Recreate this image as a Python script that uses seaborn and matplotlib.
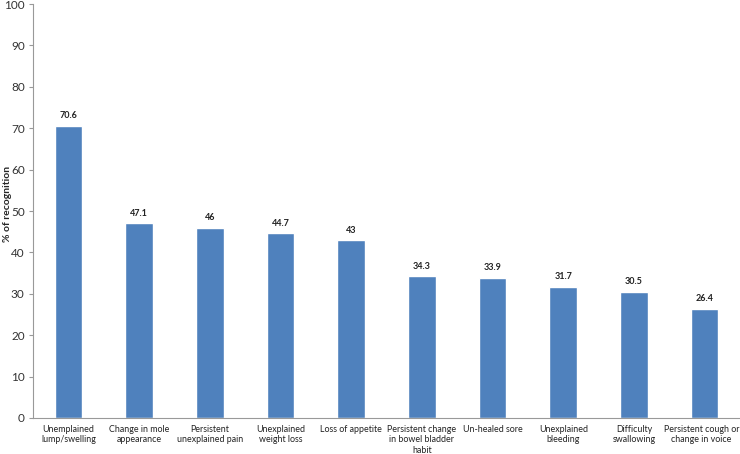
import matplotlib
matplotlib.use("Agg")
import matplotlib.pyplot as plt
import matplotlib.transforms as mtransforms
import seaborn as sns
import pandas as pd

categories = ["Unemplained\nlump/swelling", "Change in mole\nappearance", "Persistent\nunexplained pain",
              "Unexplained\nweight loss", "Loss of appetite", "Persistent change\nin bowel bladder\nhabit",
              "Un-healed sore", "Unexplained\nbleeding", "Difficulty\nswallowing", "Persistent cough or\nchange in voice"]
values = [70.6, 47.1, 46, 44.7, 43, 34.3, 33.9, 31.7, 30.5, 26.4]
labels = ["70.6", "47.1", "46", "44.7", "43", "34.3", "33.9", "31.7", "30.5", "26.4"]
yticks = [0, 10, 20, 30, 40, 50, 60, 70, 80, 90, 100]

sns.set_style("white")
plt.rcParams['font.family'] = ['Lato', 'DejaVu Sans']

df = pd.DataFrame({"cat": categories, "val": values})
fig = plt.figure(figsize=(7.4, 4.54), dpi=100)
ax = fig.add_axes([33/740, 36/454, 1 - 33/740, (418-4)/454])
sns.barplot(data=df, x="cat", y="val", color="#4F81BD", saturation=1, width=0.39, ax=ax)
ax.set_xlim(-0.5, 9.5)
ax.set_ylim(0, 100)
ax.set_yticks(yticks)
ax.tick_params(axis='y', labelsize=8.5, colors='#333333', length=3, direction='out', left=True, pad=3)
ax.tick_params(axis='y', color='#999999')
ax.tick_params(axis='x', labelsize=6.4, colors='#222222', length=0, pad=5)
for s in ['top', 'right']:
    ax.spines[s].set_visible(False)
for s in ['left', 'bottom']:
    ax.spines[s].set_color('#999999')
    ax.spines[s].set_linewidth(0.8)
ax.set_xlabel("")
ax.set_ylabel("% of recognition", fontsize=7.5, fontweight='bold')
ax.yaxis.set_label_coords(-21/707, 0.517)
for i, (v, t) in enumerate(zip(values, labels)):
    ax.text(i, v + 1.3, t, ha='center', va='bottom', fontsize=6.5, fontweight='bold', color='#222222')
last = ax.get_xticklabels()[-1]
last.set_transform(last.get_transform() + mtransforms.ScaledTranslation(-3/100, 0, fig.dpi_scale_trans))
fig.savefig("out.png", dpi=100)
